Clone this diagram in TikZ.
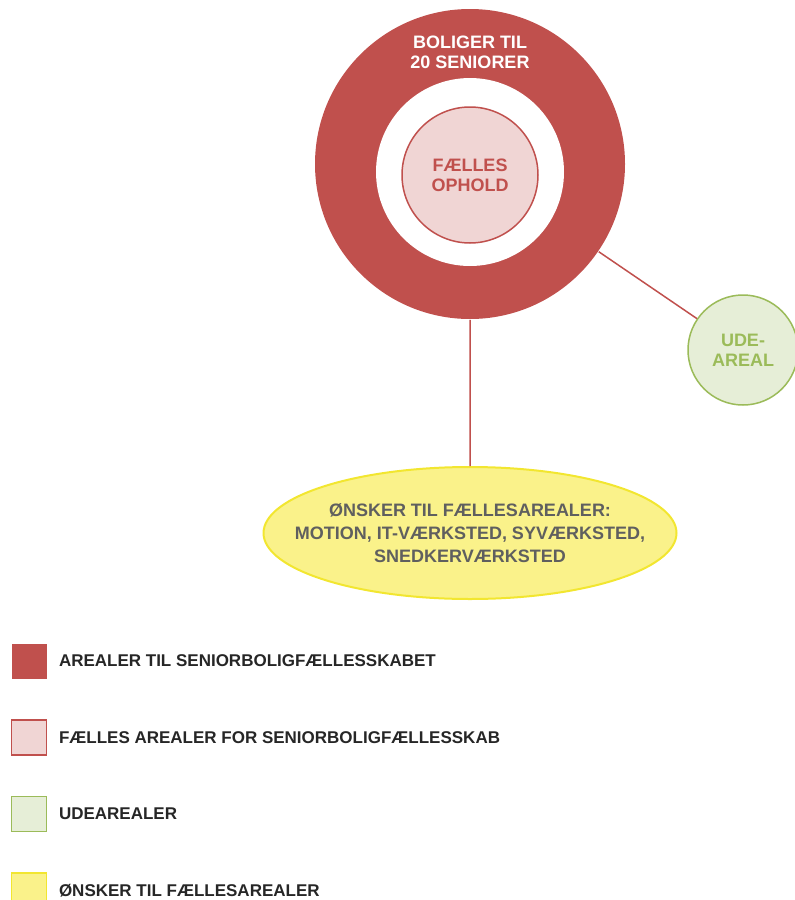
\documentclass[tikz,border=0pt]{standalone}
\usepackage{fontspec}
\setmainfont{Liberation Sans}
\usepackage{xcolor}
\usetikzlibrary{positioning,shapes.geometric}
\definecolor{boligred}{HTML}{C0504D}
\definecolor{faellespink}{HTML}{F0D5D4}
\definecolor{udegreen}{HTML}{9BBB59}
\definecolor{udefill}{HTML}{E6EED7}
\definecolor{oenskeyellow}{HTML}{FAF28A}
\definecolor{oenskeline}{HTML}{F2E630}
\definecolor{textgrey}{HTML}{5F5F5F}

\begin{document}
\begin{tikzpicture}[x=1pt,y=-1pt,line width=1.5pt,node distance=40pt,
		every node/.style={font=\bfseries\fontsize{18}{20}\selectfont,align=center},
		area/.style={circle,inner sep=0pt},
		key/.style={minimum size=35pt,inner sep=0pt},
		keytext/.style={inner sep=0pt,text=black!85,font=\bfseries\fontsize{17}{20}\selectfont}]
		\useasboundingbox (0,0) rectangle (795,900);

		% the diagram
		\node[area,fill=boligred,minimum size=310pt] (ring) at (470,164) {};
		\node[area,fill=white,minimum size=188pt] (hole) at (470,172) {};
		\node[area,draw=boligred,fill=faellespink,minimum size=136pt,text=boligred] (faelles) at (470,175) {FÆLLES\\OPHOLD};
		\node[text=white] (ringlabel) at (470,52) {BOLIGER TIL\\20 SENIORER};
		\node[area,draw=udegreen,fill=udefill,minimum size=110pt,text=udegreen] (ude) at (743,350) {UDE-\\AREAL};
		\node[ellipse,draw=oenskeline,fill=oenskeyellow,line width=2pt,inner xsep=-29pt,inner ysep=0pt,minimum height=132pt,text=textgrey,font=\bfseries\fontsize{18}{23}\selectfont] (wish) at (470,533) {ØNSKER TIL FÆLLESAREALER:\\MOTION, IT-VÆRKSTED, SYVÆRKSTED,\\SNEDKERVÆRKSTED};

		\draw[boligred] (ring) -- (wish)
			(ring) -- (ude);

		% legend
		\node[key,fill=boligred] (k1) at (29,661) {};
		\node[key,draw=boligred,fill=faellespink,below=of k1] (k2) {};
		\node[key,draw=udegreen,fill=udefill,below=of k2] (k3) {};
		\node[key,draw=oenskeline,fill=oenskeyellow,below=of k3] (k4) {};
		\node[keytext,right=11pt of k1] (t1) {AREALER TIL SENIORBOLIGFÆLLESSKABET};
		\node[keytext,right=11pt of k2] (t2) {FÆLLES AREALER FOR SENIORBOLIGFÆLLESSKAB};
		\node[keytext,right=11pt of k3] (t3) {UDEAREALER};
		\node[keytext,right=11pt of k4] (t4) {ØNSKER TIL FÆLLESAREALER};
	\end{tikzpicture}
\end{document}
